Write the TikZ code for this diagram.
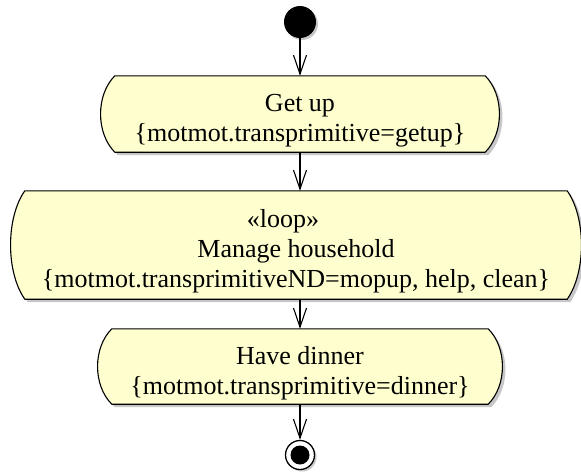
\documentclass[tikz,border=0pt]{standalone}
\usepackage{fontspec}
\setmainfont{Liberation Serif}
\usetikzlibrary{arrows.meta,calc,shadows,backgrounds}

\definecolor{actfill}{HTML}{FEFECE}

% centred block of lines, placed a little below the node centre
\newcommand\actlines[1]{\raisebox{-13pt}[0pt][0pt]{\begin{tabular}{@{}c@{}}#1\end{tabular}}}

\tikzset{
  every picture/.style={x=1pt,y=-1pt},
  actbox/.style={rectangle, inner sep=0pt,
    font=\fontsize{26pt}{30pt}\selectfont},
  outline/.style={draw=black, line width=1.1pt, fill=actfill,
    drop shadow={shadow xshift=3pt, shadow yshift=-3pt, fill=black, opacity=0.22}},
  flow/.style={draw=black, line width=1.1pt,
    -{Straight Barb[length=19pt, width=13pt, line width=1.1pt]}},
  startdot/.style={circle, fill=black, inner sep=0pt, minimum size=32pt,
    drop shadow={shadow xshift=2pt, shadow yshift=-2pt, fill=black, opacity=0.22}},
  endring/.style={circle, draw=black, line width=1.3pt, fill=white, inner sep=0pt,
    minimum size=29pt,
    drop shadow={shadow xshift=2pt, shadow yshift=-2pt, fill=black, opacity=0.22}},
  enddot/.style={circle, fill=black, inner sep=0pt, minimum size=19pt}
}

% action outline: straight top and bottom, bulging sides
\newcommand\actoutline[1]{%
  \path[outline] (#1.north west) -- (#1.north east)
    .. controls ($(#1.north east)!0.25!(#1.south east)+(19,0)$)
           and ($(#1.north east)!0.75!(#1.south east)+(19,0)$) .. (#1.south east)
    -- (#1.south west)
    .. controls ($(#1.south west)!0.25!(#1.north west)+(-19,0)$)
           and ($(#1.south west)!0.75!(#1.north west)+(-19,0)$) .. (#1.north west)
    -- cycle;}

\begin{document}
\begin{tikzpicture}
\useasboundingbox (0,0) rectangle (581,474);

\node[startdot] (start) at (300,22) {};

\node[actbox, minimum width=370pt, minimum height=76pt] (getup) at (300,114)
  {\actlines{Get up\\\{motmot.transprimitive=getup\}}};

\node[actbox, minimum width=542pt, minimum height=108pt] (manage) at (296,245)
  {\actlines{«loop»\hspace*{1em}\\Manage household\\\{motmot.transprimitiveND=mopup, help, clean\}}};

\node[actbox, minimum width=376pt, minimum height=75pt] (dinner) at (300,366.5)
  {\actlines{Have dinner\\\{motmot.transprimitive=dinner\}}};

\node[endring] (finish) at (300,455) {};
\node[enddot] (finishdot) at (finish) {};

\begin{scope}[on background layer]
  \actoutline{getup}
  \actoutline{manage}
  \actoutline{dinner}
\end{scope}

\draw[flow] (start) -- (getup);
\draw[flow] (getup.south) -- (getup.south |- manage.north);
\draw[flow] (dinner.north |- manage.south) -- (dinner.north);
\draw[flow] (dinner) -- (finish);
\end{tikzpicture}
\end{document}
